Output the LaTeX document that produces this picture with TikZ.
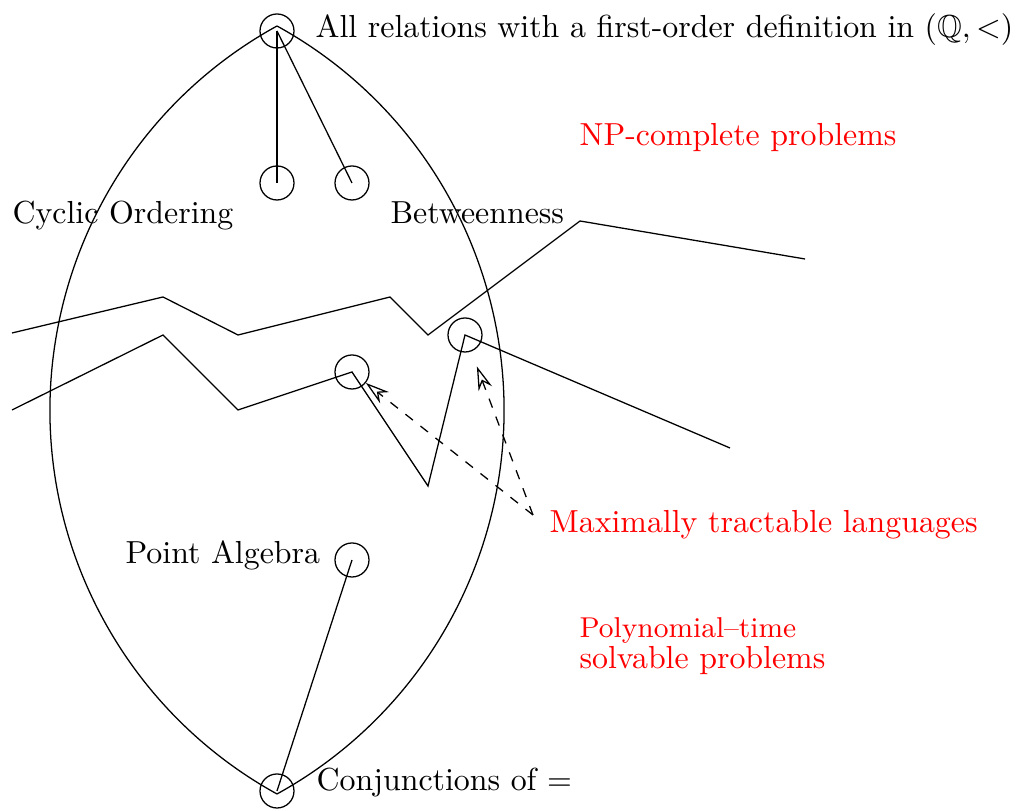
\documentclass[tikz,border=0pt]{standalone}
\usepackage{amssymb}
\usetikzlibrary{arrows.meta}
\begin{document}
\begin{tikzpicture}[x=0.3137pt,y=-0.3137pt,
  dot/.style={circle,draw,inner sep=0pt,minimum size=10.67pt},
  lbl/.style={anchor=base west,inner sep=0pt},
  note/.style={lbl,text=red},
  ptr/.style={dashed,-{Stealth[open,length=7.5pt,width=4.5pt,inset=2.5pt]}}]
\useasboundingbox (0,0) rectangle (1029,811);
% circles
\node[dot] (top) at (277,31) {};
\node[dot] (cyc) at (277,183) {};
\node[dot] (btw) at (352,183) {};
\node[dot] (m1) at (352,372) {};
\node[dot] (m2) at (465,335) {};
\node[dot] (pa) at (352,560) {};
\node[dot] (eq) at (277,791) {};
% lens
\draw (277,26) arc[start angle=241.18,end angle=118.82,radius=438.3];
\draw (277,26) arc[start angle=-61.18,end angle=61.18,radius=438.3];
% edges
\draw (top.center) -- (cyc.center);
\draw (top.center) -- (btw.center);
\draw (pa.center) -- (eq.center);
% borders
\draw (12,333) -- (163,297) -- (238,335) -- (390,297) -- (428,335) -- (580,221) -- (805,259);
\draw (12,410) -- (163,335) -- (238,410) -- (m1.center) -- (428,486) -- (m2.center) -- (730,448);
% arrows
\coordinate (src) at (533,515);
\draw[ptr] (src) -- (m1);
\draw[ptr,shorten >=5pt] (src) -- (m2);
% labels
\node[lbl] (tAll) at (315,38) {All relations with a first-order definition in $(\mathbb{Q},<)$};
\node[note] (tNP) at (579,146) {NP-complete problems};
\node[lbl] (tCyc) at (12,224) {Cyclic Ordering};
\node[lbl] (tBtw) at (390,224) {Betweenness};
\node[note] (tMax) at (549,533) {Maximally tractable languages};
\node[lbl] (tPA) at (125,564) {Point Algebra};
\node[note,font=\fontsize{9}{11}\selectfont] (tPol1) at (579,638) {Polynomial--time};
\node[note] (tPol2) at (579,669) {solvable problems};
\node[lbl] (tEq) at (316,791) {Conjunctions of $=$};
\end{tikzpicture}
\end{document}
